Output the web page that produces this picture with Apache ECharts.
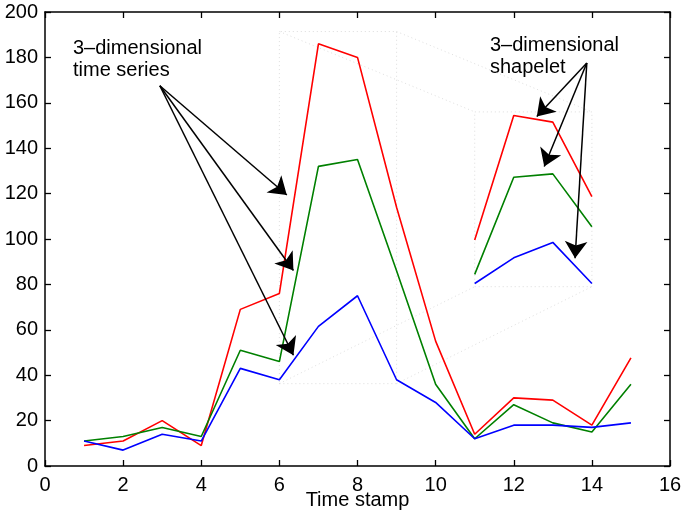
<!DOCTYPE html>
<html>
<head>
<meta charset="utf-8">
<script src="https://cdn.jsdelivr.net/npm/echarts@6/dist/echarts.min.js"></script>
<style>
html,body{margin:0;padding:0;background:#fff;}
#chart{width:685px;height:518px;}
</style>
</head>
<body>
<div id="chart"></div>
<script>
// ---- data ----
const timeStamps = [1,2,3,4,5,6,7,8,9,10,11,12,13,14,15];
const redSeries   = [9,11,20,9,69,76,186,180,114,55,14,30,29,18,47.6];
const greenSeries = [11,13,17,13,51,46,132,135,86,36,12,27,19,15,36];
const blueSeries  = [11,7,14,11,43,38,61.5,75,38,28,12,18,18,17,19];

const shapeletStamps = [11,12,13,14];
const shapeletRed   = [99.6,154.4,151.5,118.7];
const shapeletGreen = [84.4,127.2,128.7,105.4];
const shapeletBlue  = [80.4,91.7,98.5,80.4];

// dotted boxes [xmin,xmax] / [ymin,ymax]
const seriesBoxX = [6,9];
const seriesBoxY = [36.3,191.4];
const shapeletBoxX = [11,14];
const shapeletBoxY = [79,156];

// annotation arrows (data coords)
const leftArrowStart = [2.94,167.5];
const leftArrowTips = [[6.19,119.4],[6.36,86.1],[6.36,48.8]];
const rightArrowStart = [13.87,177.5];
const rightArrowTips = [[12.59,154],[12.78,131.9],[13.57,91.5]];

const xTicks = {min:0,max:16,interval:2};
const yTicks = {min:0,max:200,interval:20};

const leftLabel = ['3–dimensional','time series'];
const rightLabel = ['3–dimensional','shapelet'];
const xTitle = 'Time stamp';

// ---- build ----
const FONT = 'Liberation Sans, Arial, Helvetica, sans-serif';
const zip = (xs, ys) => xs.map((x,i)=>[x,ys[i]]);
function rect(bx,by){
  return [[bx[0],by[0]],[bx[1],by[0]],[bx[1],by[1]],[bx[0],by[1]],[bx[0],by[0]]];
}
const dotted = {color:'#bdbdbd', width:1, type:[1,3]};

function lineSeries(data,color){
  return {type:'line', data:data, showSymbol:false, symbol:'none', silent:true,
    lineStyle:{color:color,width:1.6}, z:3, animation:false};
}

const axisLine = {show:true,onZero:false,lineStyle:{color:'#000',width:1.5}};
const tick = {show:true,inside:true,length:6,lineStyle:{color:'#000',width:1.3}};
const label = {color:'#000',fontSize:20,fontFamily:FONT};

const chart = echarts.init(document.getElementById('chart'), null, {renderer:'canvas'});
chart.setOption({
  animation:false,
  backgroundColor:'#fff',
  grid:{left:45,right:15,top:12,bottom:52,containLabel:false,outerBoundsMode:'none'},
  xAxis:[
    {type:'value',position:'bottom',min:xTicks.min,max:xTicks.max,interval:xTicks.interval,
     axisLine:axisLine,axisTick:tick,splitLine:{show:false},
     axisLabel:Object.assign({margin:9},label),
     name:xTitle,nameLocation:'middle',nameGap:24,nameMoveOverlap:false,
     nameTextStyle:{color:'#000',fontSize:20,fontFamily:FONT}},
    {type:'value',position:'top',min:xTicks.min,max:xTicks.max,interval:xTicks.interval,
     axisLine:axisLine,axisTick:tick,splitLine:{show:false},axisLabel:{show:false}}
  ],
  yAxis:[
    {type:'value',position:'left',min:yTicks.min,max:yTicks.max,interval:yTicks.interval,
     axisLine:axisLine,axisTick:tick,splitLine:{show:false},
     axisLabel:Object.assign({margin:7},label)},
    {type:'value',position:'right',min:yTicks.min,max:yTicks.max,interval:yTicks.interval,
     axisLine:axisLine,axisTick:tick,splitLine:{show:false},axisLabel:{show:false}}
  ],
  series:[
    {type:'lines',coordinateSystem:'cartesian2d',polyline:true,silent:true,z:1,
     lineStyle:dotted,
     data:[
       {coords:rect(seriesBoxX,seriesBoxY)},
       {coords:rect(shapeletBoxX,shapeletBoxY)},
       {coords:[[seriesBoxX[0],seriesBoxY[1]],[shapeletBoxX[0],shapeletBoxY[1]]]},
       {coords:[[seriesBoxX[1],seriesBoxY[1]],[shapeletBoxX[1],shapeletBoxY[1]]]},
       {coords:[[seriesBoxX[0],seriesBoxY[0]],[shapeletBoxX[0],shapeletBoxY[0]]]},
       {coords:[[seriesBoxX[1],seriesBoxY[0]],[shapeletBoxX[1],shapeletBoxY[0]]]}
     ]},
    lineSeries(zip(timeStamps,redSeries),'#ff0000'),
    lineSeries(zip(timeStamps,greenSeries),'#008000'),
    lineSeries(zip(timeStamps,blueSeries),'#0000ff'),
    lineSeries(zip(shapeletStamps,shapeletRed),'#ff0000'),
    lineSeries(zip(shapeletStamps,shapeletGreen),'#008000'),
    lineSeries(zip(shapeletStamps,shapeletBlue),'#0000ff'),
    {type:'lines',coordinateSystem:'cartesian2d',silent:true,z:5,
     symbol:['none','arrow'],symbolSize:17,
     lineStyle:{color:'#000',width:1.5,opacity:1},
     data:leftArrowTips.map(t=>({coords:[leftArrowStart,t]}))
       .concat(rightArrowTips.map(t=>({coords:[rightArrowStart,t]})))}
  ],
  graphic:[
    {type:'text',x:73,y:37,silent:true,
     style:{text:leftLabel.join('\n'),fill:'#000',font:'20px '+FONT,lineHeight:22,verticalAlign:'top'}},
    {type:'text',x:490,y:34,silent:true,
     style:{text:rightLabel.join('\n'),fill:'#000',font:'20px '+FONT,lineHeight:22,verticalAlign:'top'}}
  ]
});
</script>
</body>
</html>
